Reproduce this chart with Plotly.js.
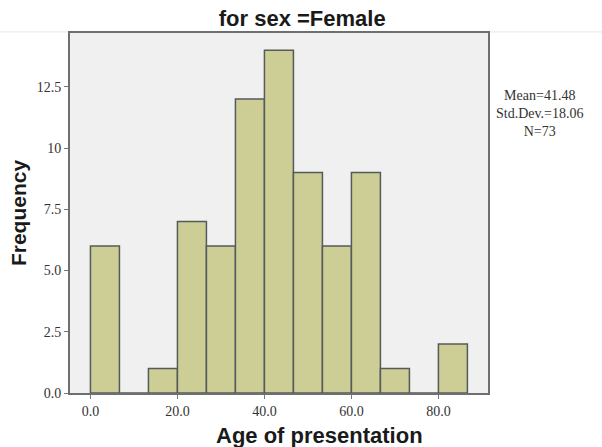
<!DOCTYPE html>
<html>
<head>
<meta charset="utf-8">
<script src="https://cdn.plot.ly/plotly-3.0.1.min.js"></script>
<style>html,body{margin:0;padding:0;background:#fff;}#chart{width:602px;height:447px;}</style>
</head>
<body>
<div id="chart"></div>
<script>
// Histogram of Age of presentation, sex = Female (bin width 20/3)
const binStarts = [0, 6.667, 13.333, 20, 26.667, 33.333, 40, 46.667, 53.333, 60, 66.667, 73.333, 80];
const counts    = [6, 0, 1, 7, 6, 12, 14, 9, 6, 9, 1, 0, 2];
const binWidth = 20 / 3;
const xTickVals = [0, 20, 40, 60, 80];
const xTickText = ["0.0", "20.0", "40.0", "60.0", "80.0"];
const yTickVals = [0, 2.5, 5, 7.5, 10, 12.5];
const yTickText = ["0.0", "2.5", "5.0", "7.5", "10", "12.5"];
const statsText = "Mean=41.48<br>Std.Dev.=18.06<br>N=73";
const xTitle = "Age of presentation";

const trace = {
  type: "bar",
  x: binStarts,
  y: counts,
  offset: 0,
  width: binStarts.map(() => binWidth),
  marker: { color: "#cdcd96", line: { color: "#555a5a", width: 1.5 } },
  hoverinfo: "skip"
};

const serif = "Liberation Serif, Times New Roman, serif";
const sans = "Liberation Sans, Arial, sans-serif";

const layout = {
  width: 602, height: 447,
  margin: { l: 70, r: 114, t: 33, b: 54 },
  paper_bgcolor: "#ffffff",
  plot_bgcolor: "#f0f0f0",
  showlegend: false,
  bargap: 0,
  title: { text: "<b>for sex =Female</b>", x: 0.502, xref: "container", xanchor: "center", y: 0.96, yanchor: "middle", font: { family: sans, size: 22, color: "#1a1a1a" } },
  xaxis: {
    range: [-4.7, 91.4],
    tickvals: xTickVals, ticktext: xTickText,
    ticks: "outside", ticklen: 4, tickcolor: "#777", tickwidth: 1,
    showgrid: false, zeroline: false,
    showline: true, linecolor: "#6d7070", linewidth: 2, mirror: true,
    tickfont: { family: serif, size: 14, color: "#333" }
  },
  yaxis: {
    range: [0, 14.7],
    tickvals: yTickVals, ticktext: yTickText,
    ticks: "outside", ticklen: 4, tickcolor: "#777", tickwidth: 1,
    showgrid: false, zeroline: false,
    showline: true, linecolor: "#6d7070", linewidth: 2, mirror: true,
    tickfont: { family: serif, size: 14, color: "#333" },
    title: { text: "<b>Frequency</b>", font: { family: sans, size: 21, color: "#1a1a1a" }, standoff: 4 }
  },
  annotations: [{
    text: statsText, xref: "paper", yref: "paper", x: 1.125, y: 0.775,
    xanchor: "center", yanchor: "middle", showarrow: false, align: "center",
    font: { family: serif, size: 14, color: "#333" }
  }, {
    text: "<b>" + xTitle + "</b>", xref: "paper", yref: "paper", x: 0.598, y: -0.118,
    xanchor: "center", yanchor: "middle", showarrow: false,
    font: { family: sans, size: 22, color: "#1a1a1a" }
  }],
  shapes: [{
    type: "line", xref: "paper", yref: "paper", x0: -0.2, x1: 1.3, y0: 1.003, y1: 1.003,
    line: { color: "#e6e6e6", width: 1 }, layer: "below"
  }]
};

Plotly.newPlot("chart", [trace], layout, { staticPlot: true, displayModeBar: false });
</script>
</body>
</html>
